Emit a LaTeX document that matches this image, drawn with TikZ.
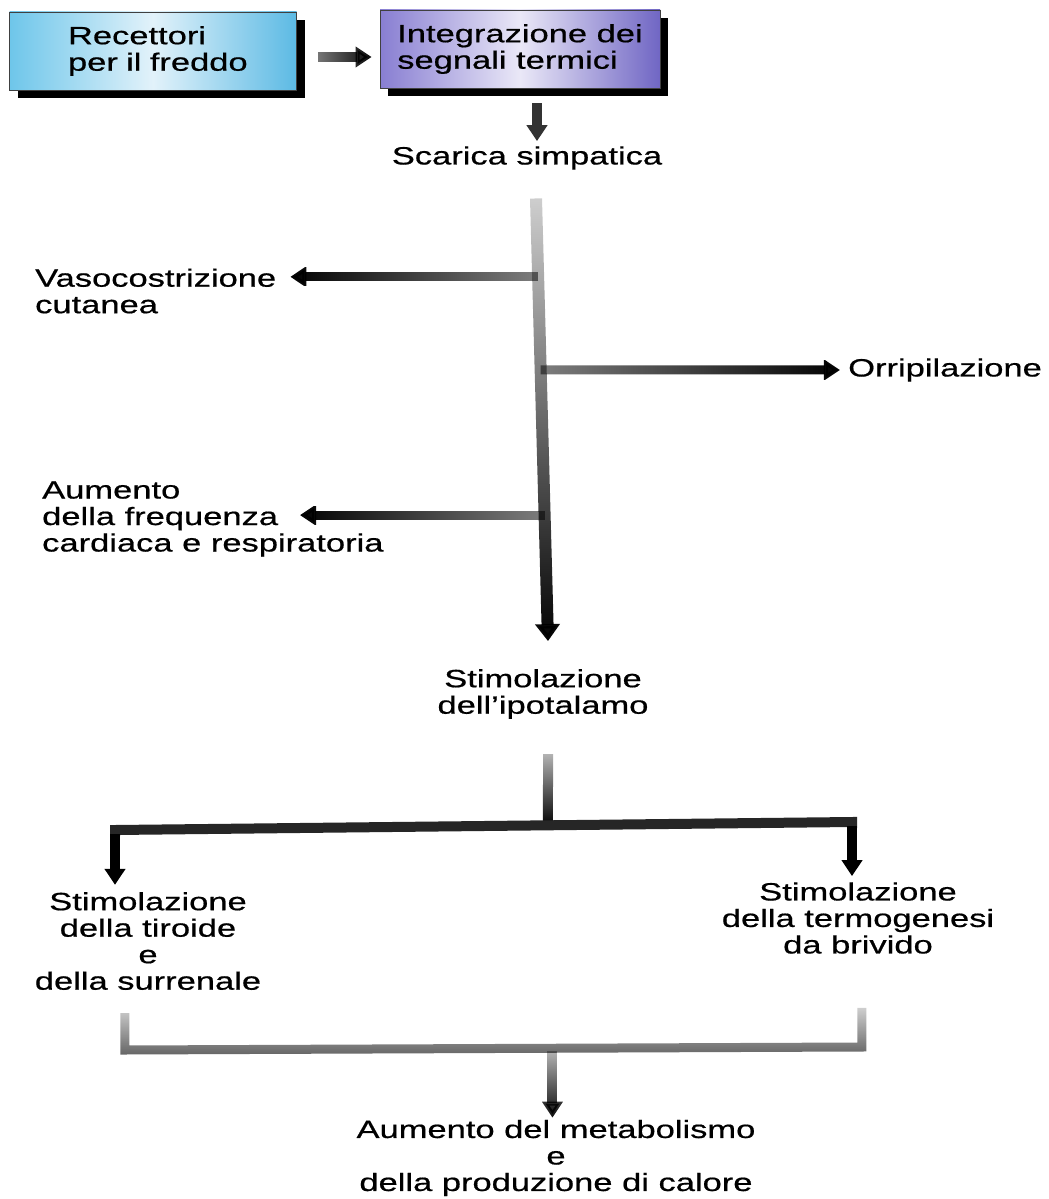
\documentclass[tikz,border=0pt]{standalone}
\usepackage{fontspec}
\setmainfont{Liberation Sans}[FakeStretch=1.38, FakeBold=0.6]
\usetikzlibrary{arrows.meta,shadows,fadings,calc}
\definecolor{bluL}{RGB}{110,198,234}
\definecolor{bluM}{RGB}{226,242,250}
\definecolor{bluR}{RGB}{92,186,228}
\definecolor{purL}{RGB}{136,126,210}
\definecolor{purM}{RGB}{234,232,247}
\definecolor{purR}{RGB}{112,102,196}
\tikzfading[name=fdown, top color=transparent!75, bottom color=transparent!0]
\tikzfading[name=ftrunk, top color=transparent!82, middle color=transparent!50, bottom color=transparent!0]
\tikzfading[name=fleft, left color=transparent!0, right color=transparent!50]
\tikzfading[name=fright, left color=transparent!50, right color=transparent!0]
\tikzset{
  txt/.style={font=\fontsize{25}{26.5}\selectfont, inner sep=0pt, text=black},
  boxa/.style={txt, draw=black!75, line width=0.8pt, minimum width=287pt, minimum height=78pt,
    drop shadow={shadow xshift=8pt, shadow yshift=-8pt, fill=black, opacity=1}},
  tipb/.style={-{Triangle[width=24pt,length=17pt]}},
  tips/.style={-{Triangle[width=20pt,length=16pt]}},
  conn/.style={draw=black, line width=9pt},
}
\begin{document}
\begin{tikzpicture}[x=1pt,y=-1pt]
\useasboundingbox[fill=white] (0,0) rectangle (1049,1199);
% boxes
\node[boxa, left color=bluL, right color=bluR, middle color=bluM, align=left, text width=220pt, inner xsep=0pt] (rec) at (153,51) {\hspace*{25pt}Recettori\\\hspace*{25pt}per il freddo};
\node[boxa, minimum width=280pt, left color=purL, right color=purR, middle color=purM, align=left] (int) at (520,49) {Integrazione dei\\segnali termici};
% texts
\node[txt] (scar) at (527,158) {Scarica simpatica};
\node[txt, align=left, anchor=west] (vaso) at (35,291) {Vasocostrizione\\cutanea};
\node[txt, anchor=west] (orri) at (848,370) {Orripilazione};
\node[txt, align=left, anchor=west] (aum) at (42,519) {Aumento\\della frequenza\\cardiaca e respiratoria};
\node[txt, align=center] (ipo) at (543,694) {Stimolazione\\dell’ipotalamo};
\node[txt, align=center] (tir) at (148,941) {Stimolazione\\della tiroide\\e\\della surrenale};
\node[txt, align=center] (termo) at (858,918) {Stimolazione\\della termogenesi\\da brivido};
\node[txt, align=center] (fin) at (556,1158) {Aumento del metabolismo\\e\\della produzione di calore};
% top connectors
\draw[conn, line width=10pt, tips, path fading=fright] ($(rec.east)+(21,6)$) -- ($(int.west)+(-8,8)$);
\draw[conn, line width=10pt, tips, draw=black!80] ($(int.south)+(17,15)$) -- ($(scar.north)+(10,-5)$);
% trunk
\coordinate (t1) at (536,198);
\coordinate (te) at ($(ipo.north)+(5,-28)$);
\coordinate (j1) at ($(t1)!0.178!(te)$);
\coordinate (j2) at ($(t1)!0.388!(te)$);
\coordinate (j3) at ($(t1)!0.716!(te)$);
\draw[conn, tips, path fading=fleft] (j1) -- ($(j1 -| vaso.east)+(14,0)$);
\draw[conn, tips, path fading=fright] (j2) -- ($(orri.west)+(-8,0)$);
\draw[conn, tips, path fading=fleft] (j3) -- ($(j3 -| aum.west)+(258,0)$);
\draw[conn, line width=12pt, tipb, path fading=ftrunk] (t1) -- (te);
% lower part
\coordinate (v1) at ($(ipo.south)+(5,35)$);
\coordinate (bl) at (115,830);
\coordinate (br) at (852,822);
\coordinate (bj) at ($(bl)!0.5875!(br)$);
\draw[conn, line width=10pt, path fading=fdown] (v1) -- ($(bj)+(0,-4)$);
\draw[conn, line width=10pt, draw=black!85, line join=miter] ($(bl)+(0,6)$) -- (bl) -- (br) -- ($(br)+(0,6)$);
\draw[conn, line width=10pt, tips] ($(bl)+(0,4)$) -- ($(tir.north -| bl)+(0,-7)$);
\draw[conn, line width=10pt, tips] ($(br)+(0,4)$) -- ($(termo.north -| br)+(0,-6)$);
% bottom bracket
\coordinate (k1) at (125,1013);
\coordinate (k2) at (125,1050);
\coordinate (k3) at (862,1047);
\coordinate (k4) at (862,1008);
\coordinate (kj) at ($(k2)!0.58!(k3)$);
\draw[conn, line width=9pt, draw=black!60, line join=miter, path fading=fdown] (k1) -- (k2) -- (k3) -- (k4);
\draw[conn, line width=10pt, tips, path fading=fdown] ($(kj)+(0,3)$) -- ($(kj |- fin.north)+(0,-2)$);
\end{tikzpicture}
\end{document}
